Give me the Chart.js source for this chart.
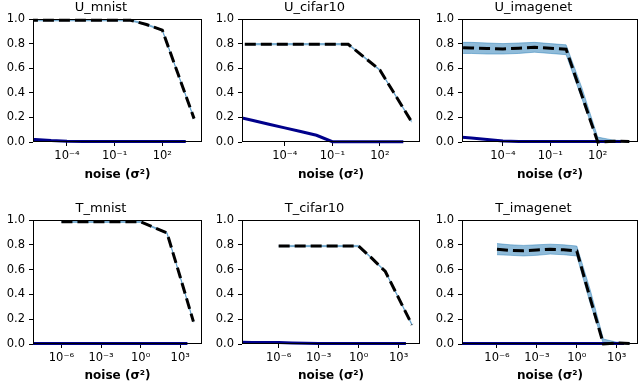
<!DOCTYPE html>
<html>
<head>
<meta charset="utf-8">
<script src="https://cdn.jsdelivr.net/npm/chart.js@4.4.0/dist/chart.umd.min.js"></script>
<style>
  body { margin: 0; background: #fff; }
  #figure { position: relative; width: 640px; height: 383px; overflow: hidden; }
  #figure canvas { position: absolute; }
</style>
</head>
<body>
<div id="figure"></div>
<script>
// values
const topNoise = [3e-7, 1e-6, 1e-5, 1e-4, 1e-3, 1e-2, 1e-1, 1, 10, 100, 1000, 10000];
const bottomNoise = [1e-6, 1e-5, 1e-4, 1e-3, 1e-2, 1e-1, 1, 10, 100, 1000, 10000];
const topBlueNoise = [2e-7, 1e-6, 1e-5, 1e-4, 1e-3, 1e-2, 1e-1, 1, 10, 100, 1000, 3000];
const bottomBlueNoise = [1.5e-9, 1e-8, 1e-7, 1e-6, 1e-5, 1e-4, 1e-3, 1e-2, 1e-1, 1, 10, 100, 1000, 3500];
const topTickExps = [-4, -1, 2];
const bottomTickExps = [-6, -3, 0, 3];
const yTicks = [0, 0.2, 0.4, 0.6, 0.8, 1.0];

// U_mnist
const uMnistMean  = [0.99, 0.99, 0.99, 0.99, 0.99, 0.99, 0.99, 0.99, 0.955, 0.91, 0.55, 0.19];
const uMnistUpper = [0.995, 0.995, 0.995, 0.995, 0.995, 0.995, 0.995, 0.995, 0.96, 0.915, 0.555, 0.195];
const uMnistLower = [0.985, 0.985, 0.985, 0.985, 0.985, 0.985, 0.985, 0.985, 0.95, 0.905, 0.545, 0.185];
const uMnistBlue  = [0.024, 0.02, 0.012, 0.007, 0.005, 0.004, 0.004, 0.004, 0.004, 0.004, 0.004, 0.004];

// U_cifar10
const uCifarMean  = [0.795, 0.795, 0.795, 0.795, 0.795, 0.795, 0.795, 0.795, 0.69, 0.585, 0.375, 0.165];
const uCifarUpper = [0.8, 0.8, 0.8, 0.8, 0.8, 0.8, 0.8, 0.8, 0.695, 0.59, 0.38, 0.17];
const uCifarLower = [0.79, 0.79, 0.79, 0.79, 0.79, 0.79, 0.79, 0.79, 0.685, 0.58, 0.37, 0.16];
const uCifarBlue  = [0.195, 0.175, 0.145, 0.115, 0.085, 0.055, 0.003, 0.003, 0.003, 0.003, 0.003, 0.003];

// U_imagenet
const uImagenetMean  = [0.767, 0.765, 0.76, 0.757, 0.763, 0.77, 0.762, 0.754, 0.377, 0.0, 0.006, 0.004];
const uImagenetUpper = [0.81, 0.81, 0.805, 0.8, 0.805, 0.81, 0.8, 0.79, 0.44, 0.04, 0.015, 0.01];
const uImagenetLower = [0.72, 0.72, 0.715, 0.715, 0.72, 0.73, 0.72, 0.71, 0.35, 0.0, 0.0, 0.0];
const uImagenetBlue  = [0.04, 0.033, 0.02, 0.009, 0.005, 0.004, 0.004, 0.004, 0.004, 0.004, 0.004, 0.004];

// T_mnist
const tMnistMean  = [0.985, 0.985, 0.985, 0.985, 0.985, 0.985, 0.985, 0.94, 0.895, 0.54, 0.18];
const tMnistUpper = [0.99, 0.99, 0.99, 0.99, 0.99, 0.99, 0.99, 0.945, 0.9, 0.545, 0.185];
const tMnistLower = [0.98, 0.98, 0.98, 0.98, 0.98, 0.98, 0.98, 0.935, 0.89, 0.535, 0.175];
const tMnistBlue  = [0.004, 0.004, 0.004, 0.004, 0.004, 0.004, 0.004, 0.004, 0.004, 0.004, 0.004, 0.004, 0.004, 0.004];

// T_cifar10
const tCifarMean  = [0.79, 0.79, 0.79, 0.79, 0.79, 0.79, 0.79, 0.69, 0.585, 0.37, 0.155];
const tCifarUpper = [0.795, 0.795, 0.795, 0.795, 0.795, 0.795, 0.795, 0.695, 0.59, 0.375, 0.16];
const tCifarLower = [0.785, 0.785, 0.785, 0.785, 0.785, 0.785, 0.785, 0.685, 0.58, 0.365, 0.15];
const tCifarBlue  = [0.014, 0.013, 0.013, 0.012, 0.009, 0.006, 0.004, 0.004, 0.004, 0.004, 0.004, 0.004, 0.004, 0.004];

// T_imagenet
const tImagenetMean  = [0.765, 0.755, 0.752, 0.758, 0.765, 0.76, 0.75, 0.37, 0.0, 0.008, 0.004];
const tImagenetUpper = [0.81, 0.8, 0.795, 0.8, 0.805, 0.8, 0.79, 0.44, 0.04, 0.015, 0.01];
const tImagenetLower = [0.72, 0.715, 0.71, 0.715, 0.725, 0.72, 0.71, 0.33, 0.0, 0.0, 0.0];
const tImagenetBlue  = [0.004, 0.004, 0.004, 0.004, 0.004, 0.004, 0.004, 0.004, 0.004, 0.004, 0.004, 0.004, 0.004, 0.004];

const panels = [
  { title: "U_mnist", row: 0, col: 0, noise: topNoise, mean: uMnistMean, upper: uMnistUpper, lower: uMnistLower, blueNoise: topBlueNoise, blue: uMnistBlue, xMin: -6.14, xMax: 4.50, ticks: topTickExps },
  { title: "U_cifar10", row: 0, col: 1, noise: topNoise, mean: uCifarMean, upper: uCifarUpper, lower: uCifarLower, blueNoise: topBlueNoise, blue: uCifarBlue, xMin: -6.7, xMax: 4.53, ticks: topTickExps },
  { title: "U_imagenet", row: 0, col: 2, noise: topNoise, mean: uImagenetMean, upper: uImagenetUpper, lower: uImagenetLower, blueNoise: topBlueNoise, blue: uImagenetBlue, xMin: -6.59, xMax: 4.55, ticks: topTickExps },
  { title: "T_mnist", row: 1, col: 0, noise: bottomNoise, mean: tMnistMean, upper: tMnistUpper, lower: tMnistLower, blueNoise: bottomBlueNoise, blue: tMnistBlue, xMin: -8.15, xMax: 4.65, ticks: bottomTickExps },
  { title: "T_cifar10", row: 1, col: 1, noise: bottomNoise, mean: tCifarMean, upper: tCifarUpper, lower: tCifarLower, blueNoise: bottomBlueNoise, blue: tCifarBlue, xMin: -8.75, xMax: 4.6, ticks: bottomTickExps },
  { title: "T_imagenet", row: 1, col: 2, noise: bottomNoise, mean: tImagenetMean, upper: tImagenetUpper, lower: tImagenetLower, blueNoise: bottomBlueNoise, blue: tImagenetBlue, xMin: -8.63, xMax: 4.6, ticks: bottomTickExps }
];

// layout of the grid (axes boxes in page pixels)
const colLeft = [33, 242, 462];
const colRight = [202, 420, 638];
const rowLayout = [
  { top: 0, height: 182, titleTop: 0, titleBottom: 3.4, xAxisHeight: 40 },
  { top: 190, height: 193, titleTop: 11, titleBottom: 3.4, xAxisHeight: 39 }
];
const Y_AXIS_WIDTH = 33;

const supDigits = { "-": "\u207B", "0": "\u2070", "1": "\u00B9", "2": "\u00B2", "3": "\u00B3", "4": "\u2074", "5": "\u2075", "6": "\u2076", "7": "\u2077", "8": "\u2078", "9": "\u2079" };
function powerLabel(exp) {
  return "10" + String(exp).split("").map((c) => supDigits[c]).join("");
}

function toPoints(xs, ys) {
  return xs.map((x, i) => ({ x: x, y: ys[i] }));
}

// box around each axes (matplotlib spines)
const framePlugin = {
  id: "frame",
  afterDatasetsDraw(chart) {
    const { ctx, chartArea } = chart;
    ctx.save();
    ctx.strokeStyle = "#000";
    ctx.lineWidth = 1;
    ctx.strokeRect(chartArea.left + 0.5, chartArea.top + 0.5,
      chartArea.right - chartArea.left - 1, chartArea.bottom - chartArea.top - 1);
    ctx.restore();
  }
};

Chart.defaults.font.family = "'DejaVu Sans', sans-serif";
Chart.defaults.color = "#000";

const figure = document.getElementById("figure");
const lineClip = { left: 0, right: 0, top: 4, bottom: 4 };

panels.forEach((panel) => {
  const rowInfo = rowLayout[panel.row];
  const canvasLeft = colLeft[panel.col] - Y_AXIS_WIDTH;
  const canvasWidth = colRight[panel.col] - canvasLeft + 2;

  const canvas = document.createElement("canvas");
  canvas.width = canvasWidth;
  canvas.height = rowInfo.height;
  canvas.style.left = canvasLeft + "px";
  canvas.style.top = rowInfo.top + "px";
  canvas.style.width = canvasWidth + "px";
  canvas.style.height = rowInfo.height + "px";
  figure.appendChild(canvas);

  new Chart(canvas.getContext("2d"), {
    type: "line",
    data: {
      datasets: [
        {
          label: "mean",
          data: toPoints(panel.noise, panel.mean),
          borderColor: "#000",
          borderWidth: 3,
          borderDash: [11, 5],
          pointRadius: 0,
          fill: false,
          clip: lineClip
        },
        {
          label: "baseline",
          data: toPoints(panel.blueNoise, panel.blue),
          borderColor: "#00008B",
          borderWidth: 3,
          pointRadius: 0,
          fill: false,
          clip: lineClip
        },
        {
          label: "upper",
          data: toPoints(panel.noise, panel.upper),
          borderColor: "rgba(31,119,180,0.45)",
          backgroundColor: "rgba(31,119,180,0.5)",
          borderWidth: 1,
          pointRadius: 0,
          fill: "+1",
          clip: lineClip
        },
        {
          label: "lower",
          data: toPoints(panel.noise, panel.lower),
          borderColor: "rgba(31,119,180,0.45)",
          borderWidth: 1,
          pointRadius: 0,
          fill: false,
          clip: lineClip
        }
      ]
    },
    options: {
      responsive: false,
      animation: false,
      devicePixelRatio: 1,
      events: [],
      layout: { padding: { left: 0, right: 2, top: 0, bottom: 0 } },
      plugins: {
        legend: { display: false },
        tooltip: { enabled: false },
        title: {
          display: true,
          text: panel.title,
          font: { size: 13, weight: "normal", lineHeight: 1.2 },
          padding: { top: rowInfo.titleTop, bottom: rowInfo.titleBottom }
        }
      },
      scales: {
        x: {
          type: "logarithmic",
          min: Math.pow(10, panel.xMin),
          max: Math.pow(10, panel.xMax),
          afterBuildTicks(scale) {
            scale.ticks = panel.ticks.map((e) => ({ value: Math.pow(10, e) }));
          },
          afterFit(scale) {
            scale.height = rowInfo.xAxisHeight;
          },
          ticks: {
            autoSkip: false,
            maxRotation: 0,
            padding: 3,
            font: { size: 11.5 },
            callback: (value) => powerLabel(Math.round(Math.log10(value)))
          },
          grid: {
            drawOnChartArea: false,
            drawTicks: true,
            tickLength: 4,
            tickColor: "#000",
            color: "#000"
          },
          border: { display: false },
          title: {
            display: true,
            text: "noise (\u03C3\u00B2)",
            font: { size: 12, weight: "bold", lineHeight: 1.2 },
            padding: { top: 0, bottom: 0 }
          }
        },
        y: {
          min: 0,
          max: 1,
          afterBuildTicks(scale) {
            scale.ticks = yTicks.map((v) => ({ value: v }));
          },
          afterFit(scale) {
            scale.width = Y_AXIS_WIDTH;
          },
          ticks: {
            padding: 4,
            font: { size: 11.5 },
            callback: (value) => Number(value).toFixed(1)
          },
          grid: {
            drawOnChartArea: false,
            drawTicks: true,
            tickLength: 4,
            tickColor: "#000",
            color: "#000"
          },
          border: { display: false }
        }
      }
    },
    plugins: [framePlugin]
  });
});
</script>
</body>
</html>
